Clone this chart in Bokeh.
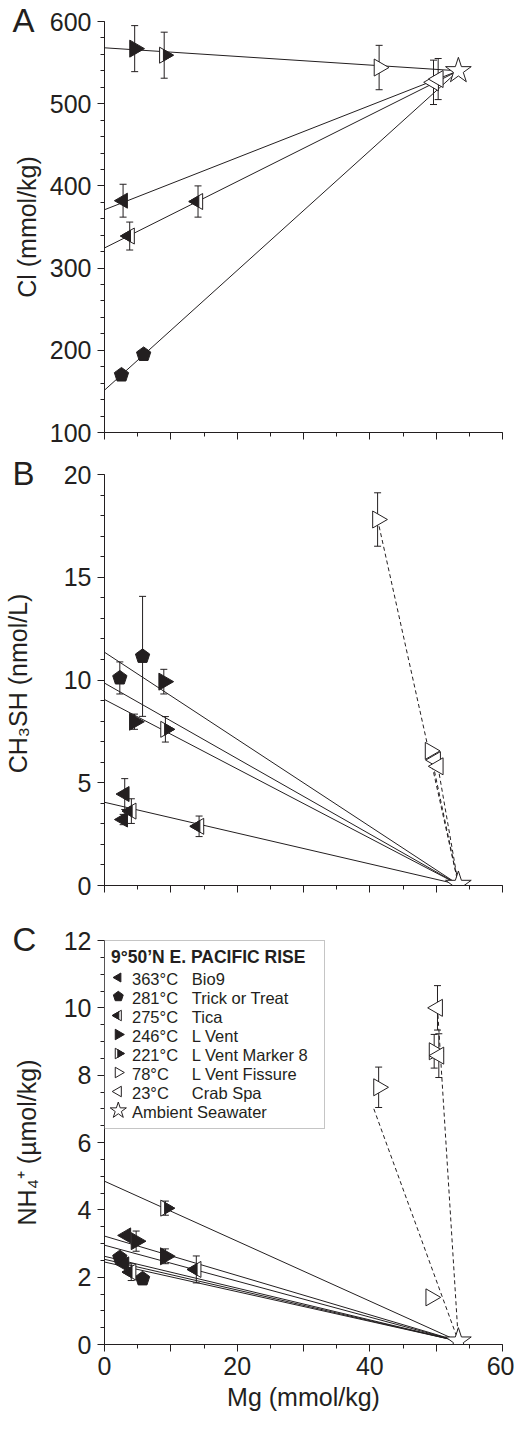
import numpy as np
from bokeh.plotting import figure
from bokeh.models import (Range1d, SingleIntervalTicker, ColumnDataSource, Whisker, TeeHead,
                          Legend, LegendItem)
from bokeh.transform import dodge
from bokeh.layouts import column
from bokeh.embed import file_html
from bokeh.resources import INLINE

try:
    from bokeh.models import Ngon
    HAVE_NGON = True
except Exception:
    HAVE_NGON = False

# ---------------- data ----------------
# ambient seawater end-member (Mg, Cl, CH3SH, NH4+)
SW_MG = 53.35
SW_CL = 540.0
SW_CH3SH = 0.05
SW_NH4 = 0.1

# Panel A : Cl (mmol/kg) vs Mg (mmol/kg)
A_bio9_mg = [2.8];          A_bio9_v = [382.0];          A_bio9_err = [20.0]
A_trick_mg = [2.56, 5.9];   A_trick_v = [170.0, 195.0]
A_tica_mg = [3.8, 14.1];    A_tica_v = [339.0, 381.0];   A_tica_err = [17.0, 19.0]
A_lvent_mg = [4.55];        A_lvent_v = [567.0];         A_lvent_err = [28.0]
A_lvm8_mg = [9.0];          A_lvm8_v = [559.0];          A_lvm8_err = [28.0]
A_fiss_mg = [41.4];         A_fiss_v = [544.0];          A_fiss_err = [27.0]
A_crab_mg = [49.6, 50.3];   A_crab_v = [526.0, 530.0];   A_crab_err = [27.0, 25.0]
A_line_v0 = [568.0, 371.0, 324.5, 151.5]          # zero-Mg end-members of mixing lines

# Panel B : CH3SH (nmol/L) vs Mg
B_trick_mg = [2.31, 5.74];  B_trick_v = [10.1, 11.15];   B_trick_err = [0.78, 2.92]
B_bio9_mg = [3.05, 2.81];   B_bio9_v = [4.45, 3.21];     B_bio9_err = [0.75, 0.25]
B_tica_mg = [4.05, 14.26];  B_tica_v = [3.62, 2.88];     B_tica_err = [0.6, 0.5]
B_lvent_mg = [4.52, 8.94];  B_lvent_v = [7.97, 9.92];    B_lvent_err = [0.37, 0.6]
B_lvm8_mg = [9.18];         B_lvm8_v = [7.6];            B_lvm8_err = [0.62]
B_fiss_mg = [41.17, 49.1];  B_fiss_v = [17.81, 6.55];    B_fiss_err = [1.3, 0.0]
B_crab_mg = [49.9, 50.3];   B_crab_v = [6.1, 5.8]
B_line_v0 = [11.35, 9.85, 9.05, 4.05]
B_dash_mg = [41.17, 49.1, 50.1]; B_dash_v = [17.81, 6.55, 6.1]

# Panel C : NH4+ (umol/kg) vs Mg
C_bio9_mg = [3.29, 3.0];    C_bio9_v = [3.24, 2.38]
C_trick_mg = [2.31, 5.74];  C_trick_v = [2.58, 1.95]
C_tica_mg = [4.03, 13.84];  C_tica_v = [2.15, 2.23];     C_tica_err = [0.25, 0.4]
C_lvent_mg = [4.77, 9.18];  C_lvent_v = [3.07, 2.62];    C_lvent_err = [0.3, 0.22]
C_lvm8_mg = [9.18];         C_lvm8_v = [4.05];           C_lvm8_err = [0.21]
C_fiss_mg = [41.33, 49.2, 49.7]; C_fiss_v = [7.64, 1.4, 8.71]; C_fiss_err = [0.6, 0.0, 0.5]
C_crab_mg = [50.2, 50.4];   C_crab_v = [10.0, 8.58];     C_crab_err = [0.66, 0.65]
C_line_v0 = [4.85, 3.22, 2.95, 2.62, 2.53, 2.45]
C_dash_mg = [40.6, 50.2];   C_dash_v = [7.0, 10.0]

LEGEND_TITLE = "9°50’N E. PACIFIC RISE"
NB = "\u00a0"
LEGEND_KEYS = ["bio9", "trick", "tica", "lvent", "lvm8", "fiss", "crab", "sw"]
LEGEND_LABELS = {
    "bio9": "363°C" + NB * 3 + "Bio9",
    "trick": "281°C" + NB * 3 + "Trick or Treat",
    "tica": "275°C" + NB * 3 + "Tica",
    "lvent": "246°C" + NB * 3 + "L Vent",
    "lvm8": "221°C" + NB * 3 + "L Vent Marker 8",
    "fiss": "78°C" + NB * 5 + "L Vent Fissure",
    "crab": "23°C" + NB * 5 + "Crab Spa",
    "sw": "Ambient Seawater",
}

# ---------------- styling ----------------
FONT = "Liberation Sans"
INK = "#231f20"
FRAME_W = 404.0
PX_PER_MG = FRAME_W / 60.0
LEFT = np.pi / 2
RIGHT = -np.pi / 2
STY = {
    "bio9": ("left", "solid", 15),
    "tica": ("left", "half", 16),
    "lvent": ("right", "solid", 17),
    "lvm8": ("right", "half", 16),
    "fiss": ("right", "open", 17),
    "crab": ("left", "open", 17),
}
LEG_SIZE = {"bio9": 9, "tica": 10.5, "lvent": 10.5, "lvm8": 10.5, "fiss": 10.5, "crab": 10.5}
# legend key geometry (pixels inside the C frame)
LEG_X_PX = 14.0
LEG_ROW0_PX = 37.0
LEG_PITCH_PX = 19.0


def make_fig(ymin, ymax, yint, yminor, height, top, bottom, ylabel, ystandoff, xlabels, letter):
    p = figure(width=514, height=height, x_range=Range1d(0, 60), y_range=Range1d(ymin, ymax),
               output_backend="svg", toolbar_location=None,
               min_border_left=98, min_border_right=12, min_border_top=top, min_border_bottom=bottom)
    p.outline_line_color = None
    p.grid.visible = False
    # panel letter
    p.title.text = letter
    p.title.align = "left"
    p.title.offset = -92
    p.title.standoff = -34
    p.title.vertical_align = "bottom"
    p.title.text_font = FONT
    p.title.text_font_size = "33px"
    p.title.text_font_style = "normal"
    p.title.text_color = INK
    p.xaxis.ticker = SingleIntervalTicker(interval=10, num_minor_ticks=2)
    p.yaxis.ticker = SingleIntervalTicker(interval=yint, num_minor_ticks=yminor)
    for ax in (p.xaxis[0], p.yaxis[0]):
        ax.axis_line_color = INK
        ax.major_tick_line_color = INK
        ax.minor_tick_line_color = INK
        ax.major_tick_out = 7
        ax.major_tick_in = 0
        ax.minor_tick_out = 4
        ax.minor_tick_in = 0
        ax.major_label_text_font = FONT
        ax.major_label_text_font_size = "25px"
        ax.major_label_text_color = INK
        ax.axis_label_text_font = FONT
        ax.axis_label_text_font_size = "25px"
        ax.axis_label_text_font_style = "normal"
        ax.axis_label_text_color = INK
    p.yaxis.major_label_standoff = 6
    p.yaxis.axis_label = ylabel
    p.yaxis.axis_label_standoff = ystandoff
    if xlabels:
        p.xaxis.major_label_overrides = {10: "", 30: "", 50: ""}
        p.xaxis.major_label_standoff = 5
        p.xaxis.axis_label = "Mg (mmol/kg)"
        p.xaxis.axis_label_standoff = 5
    else:
        p.xaxis.major_label_overrides = {t: "" for t in range(0, 70, 10)}
        p.xaxis.major_label_text_font_size = "1px"
        p.xaxis.major_label_standoff = 0
    return p


def whisk(p, mg, v, err):
    xs, up, lo = [], [], []
    for a, b, e in zip(mg, v, err):
        if e > 0:
            xs.append(a); up.append(b + e); lo.append(b - e)
    if not xs:
        return
    src = ColumnDataSource(dict(x=xs, upper=up, lower=lo))
    w = Whisker(source=src, base="x", upper="upper", lower="lower", dimension="height",
                line_color=INK, line_width=1,
                upper_head=TeeHead(size=7, line_color=INK, line_width=1),
                lower_head=TeeHead(size=7, line_color=INK, line_width=1))
    p.add_layout(w)


def tri(p, key, mg, v, err=None, size=None):
    if err is not None:
        whisk(p, mg, v, err)
    d, f, s = STY[key]
    if size is not None:
        s = size
    ang = LEFT if d == "left" else RIGHT
    src = ColumnDataSource(dict(x=mg, y=v))
    if f == "solid":
        p.scatter("x", "y", source=src, marker="triangle", size=s, angle=ang,
                  fill_color=INK, line_color=INK, line_width=1)
        return
    p.scatter("x", "y", source=src, marker="triangle", size=s, angle=ang,
              fill_color="white", line_color=INK, line_width=1)
    if f == "open":
        return
    k = 0.72
    shift = (2.0 / 3.0) * (0.866 * s) * (1 - k) / PX_PER_MG
    shift = -shift if d == "left" else shift
    p.scatter(x=dodge("x", shift, range=p.x_range), y="y", source=src, marker="triangle",
              size=s * k, angle=ang, fill_color=INK, line_color=INK, line_width=1)


def penta(p, mg, v, radius=7.5):
    src = ColumnDataSource(dict(x=mg, y=v))
    if HAVE_NGON:
        try:
            g = Ngon(x="x", y="y", radius=radius, radius_units="screen", n=5,
                     fill_color=INK, line_color=INK)
            p.add_glyph(src, g)
            return
        except Exception:
            pass
    p.scatter("x", "y", source=src, marker="hex", size=2 * radius, fill_color=INK, line_color=INK)


def star(p, x, y, size=27):
    src = ColumnDataSource(dict(x=x, y=y))
    p.scatter("x", "y", source=src, marker="star", size=size, fill_color="white",
              line_color=INK, line_width=1)


def mix_lines(p, v0, swv):
    n = len(v0)
    p.segment(x0=[0.0] * n, y0=v0, x1=[SW_MG] * n, y1=[swv] * n, line_color=INK, line_width=1)


def dash_lines(p, mg, v, swv):
    n = len(mg)
    p.segment(x0=mg, y0=v, x1=[SW_MG] * n, y1=[swv] * n, line_color=INK, line_width=1,
              line_dash="4 3")


# ---------------- panel A ----------------
pA = make_fig(100, 600, 100, 5, 452, 21, 20, "Cl (mmol/kg)", 6, False, "A")
mix_lines(pA, A_line_v0, SW_CL)
penta(pA, A_trick_mg, A_trick_v)
tri(pA, "bio9", A_bio9_mg, A_bio9_v, A_bio9_err)
tri(pA, "tica", A_tica_mg, A_tica_v, A_tica_err)
tri(pA, "lvent", A_lvent_mg, A_lvent_v, A_lvent_err)
tri(pA, "lvm8", A_lvm8_mg, A_lvm8_v, A_lvm8_err)
tri(pA, "fiss", A_fiss_mg, A_fiss_v, A_fiss_err)
tri(pA, "crab", A_crab_mg, A_crab_v, A_crab_err)
star(pA, [SW_MG], [SW_CL])

# ---------------- panel B ----------------
pB = make_fig(0, 20, 5, 5, 455, 22, 22, "CH₃SH  (nmol/L)", 29, False, "B")
mix_lines(pB, B_line_v0, SW_CH3SH)
dash_lines(pB, B_dash_mg, B_dash_v, SW_CH3SH)
whisk(pB, B_trick_mg, B_trick_v, B_trick_err)
penta(pB, B_trick_mg, B_trick_v)
tri(pB, "bio9", B_bio9_mg, B_bio9_v, B_bio9_err)
tri(pB, "tica", B_tica_mg, B_tica_v, B_tica_err)
tri(pB, "lvent", B_lvent_mg, B_lvent_v, B_lvent_err)
tri(pB, "lvm8", B_lvm8_mg, B_lvm8_v, B_lvm8_err)
tri(pB, "fiss", B_fiss_mg, B_fiss_v, B_fiss_err)
tri(pB, "crab", B_crab_mg, B_crab_v)
star(pB, [SW_MG], [SW_CH3SH])

# ---------------- panel C ----------------
pC = make_fig(0, 12, 2, 4, 510, 33, 73, "NH₄⁺ (µmol/kg)", 20, True, "C")
mix_lines(pC, C_line_v0, SW_NH4)
dash_lines(pC, C_dash_mg, C_dash_v, SW_NH4)
penta(pC, C_trick_mg, C_trick_v)
tri(pC, "bio9", C_bio9_mg, C_bio9_v)
tri(pC, "tica", C_tica_mg, C_tica_v, C_tica_err)
tri(pC, "lvent", C_lvent_mg, C_lvent_v, C_lvent_err)
tri(pC, "lvm8", C_lvm8_mg, C_lvm8_v, C_lvm8_err)
tri(pC, "fiss", C_fiss_mg, C_fiss_v, C_fiss_err)
tri(pC, "crab", C_crab_mg, C_crab_v, C_crab_err)
star(pC, [SW_MG], [SW_NH4])

# legend keys: drawn as glyphs at the legend's row positions (rotated markers)
px_per_y = 404.0 / 12.0
for i, key in enumerate(LEGEND_KEYS):
    lx = [LEG_X_PX / PX_PER_MG]
    ly = [12.0 - (LEG_ROW0_PX + i * LEG_PITCH_PX) / px_per_y]
    if key == "trick":
        penta(pC, lx, ly, radius=5.2)
    elif key == "sw":
        star(pC, lx, ly, size=17)
    else:
        tri(pC, key, lx, ly, size=LEG_SIZE[key])

dummy = pC.scatter(x=[], y=[], marker="circle", size=1, fill_alpha=0, line_alpha=0)
items = [LegendItem(label=LEGEND_LABELS[k], renderers=[dummy]) for k in LEGEND_KEYS]
legend = Legend(items=items, location="top_left", margin=0, padding=6, spacing=0,
                glyph_width=20, glyph_height=19, label_height=19, label_width=186,
                label_standoff=1, title=LEGEND_TITLE, title_text_font=FONT,
                title_text_font_style="bold", title_text_font_size="17.5px", title_standoff=2,
                title_text_color=INK, label_text_font=FONT, label_text_font_size="16.5px",
                label_text_color=INK, border_line_color="#8c8c8c", border_line_width=1,
                background_fill_alpha=0.0)
pC.add_layout(legend)

layout = column(pA, pB, pC, spacing=0)
open("out.html", "w").write(file_html(layout, INLINE))
